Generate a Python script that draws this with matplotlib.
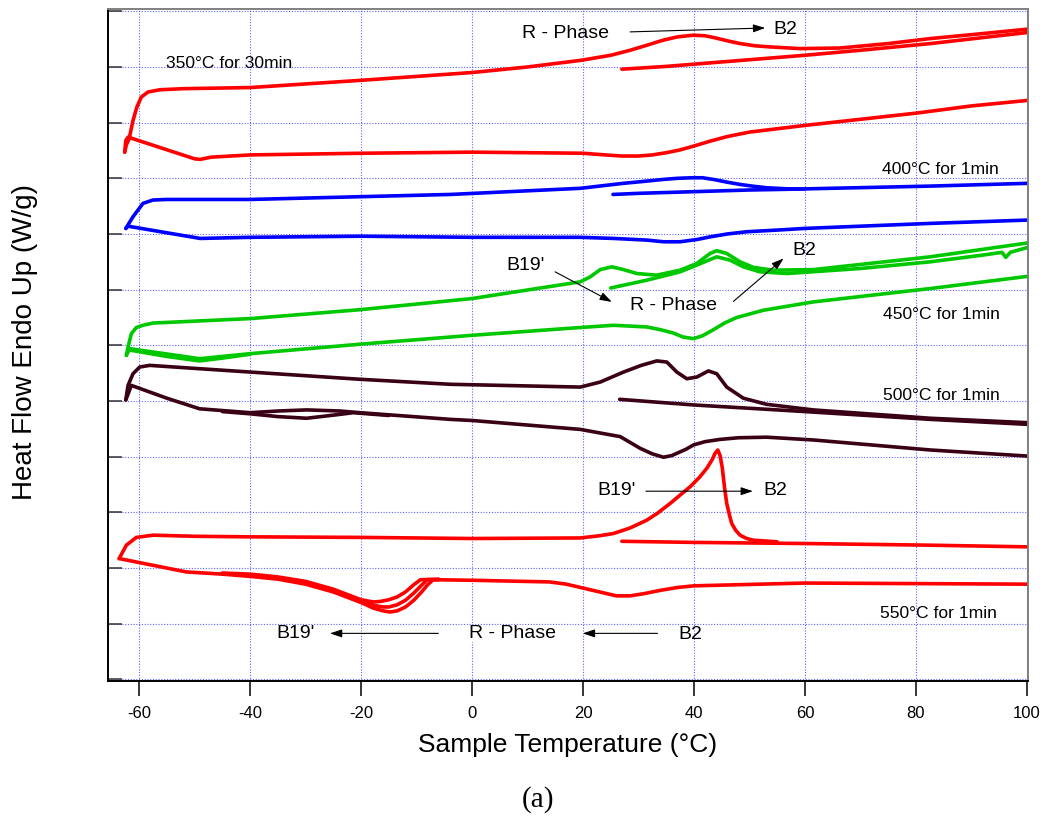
import matplotlib
matplotlib.use('Agg')
import matplotlib.pyplot as plt

plt.rcParams['font.family'] = 'Liberation Sans'
plt.rcParams['axes.unicode_minus'] = False

# ---- 350C for 30min (red) ----
t350_heat1 = [27.0, 35, 40, 50, 60, 70, 82.6, 100.2]
h350_heat1 = [10.96, 11.01, 11.05, 11.13, 11.21, 11.30, 11.42, 11.62]
t350_cool = [100.2, 90, 80, 70, 60, 55, 50, 46, 43, 40, 37.5, 35, 32.5, 30, 27, 24, 20, 10,
             0, -20, -40, -47, -49, -50, -62.0, -62.4, -62.6]
h350_cool = [10.40, 10.30, 10.17, 10.06, 9.95, 9.89, 9.83, 9.75, 9.67, 9.58, 9.51, 9.46,
             9.42, 9.40, 9.40, 9.42, 9.45, 9.46, 9.47, 9.45, 9.42, 9.38, 9.34, 9.35, 9.74,
             9.68, 9.47]
t350_heat2 = [-62.6, -62.3, -61.8, -61.1, -60.4, -59.6, -58.4, -56.3, -52.1, -40, -20, 0,
              10, 19.7, 25, 28.5, 31.5, 34.4, 37, 39.8, 42, 43.5, 46, 48.3, 51, 53.7,
              59.1, 66.3, 75, 82.6, 90, 100.2]
h350_heat2 = [9.47, 9.60, 9.71, 10.04, 10.28, 10.46, 10.55, 10.59, 10.61, 10.63, 10.76,
              10.90, 11.00, 11.12, 11.21, 11.30, 11.39, 11.48, 11.54, 11.57, 11.56, 11.53,
              11.47, 11.42, 11.38, 11.36, 11.33, 11.34, 11.42, 11.51, 11.58, 11.68]

# ---- 400C for 1min (blue) ----
t400_heat1 = [25.4, 30, 40, 50, 55.5, 60, 82.6, 100.2]
h400_heat1 = [8.71, 8.73, 8.76, 8.79, 8.80, 8.81, 8.86, 8.91]
t400_cool = [100.2, 82.6, 60, 55, 49.5, 46, 43, 40.5, 37.5, 34.5, 31.5, 25.5, 19.5, 0, -20,
             -40, -49, -62.0, -62.4]
h400_cool = [8.25, 8.19, 8.10, 8.07, 8.04, 8.00, 7.95, 7.90, 7.86, 7.86, 7.89, 7.92, 7.94,
             7.94, 7.96, 7.94, 7.92, 8.14, 8.10]
t400_heat2 = [-62.4, -61.1, -59.3, -57.5, -55, -40, -20, -3.9, 19.5, 27.3, 30.5, 34.5, 37,
              39.9, 41.5, 43.5, 46, 48.3, 50.5, 53.1, 57, 60]
h400_heat2 = [8.10, 8.31, 8.55, 8.61, 8.62, 8.62, 8.67, 8.71, 8.82, 8.91, 8.94, 8.98, 9.00,
              9.01, 9.01, 8.98, 8.93, 8.89, 8.86, 8.83, 8.81, 8.81]

# ---- 450C for 1min (green) ----
t450_heat1 = [25.0, 31.5, 37.5, 41.2, 44.1, 46.5, 48.9, 51.9, 56.8, 70, 82.6, 92, 95.5,
              96.2, 97, 100.2]
h450_heat1 = [7.03, 7.17, 7.32, 7.47, 7.59, 7.53, 7.41, 7.32, 7.29, 7.38, 7.50, 7.62,
              7.67, 7.58, 7.67, 7.76]
t450_cool = [100.2, 82.6, 61.5, 52.5, 47.7, 45.5, 43.5, 41.5, 39.9, 38, 36.3, 34, 31.5,
             25.5, 19.5, 0, -20.2, -40, -49.1, -61.7, -62.3]
h450_cool = [7.24, 7.02, 6.78, 6.63, 6.50, 6.40, 6.28, 6.17, 6.12, 6.15, 6.22, 6.28, 6.33,
             6.36, 6.32, 6.18, 6.02, 5.85, 5.76, 5.94, 5.82]
t450_cool_b = [-62.0, -55, -49.1, -45, -40]
h450_cool_b = [5.92, 5.80, 5.72, 5.77, 5.84]
t450_heat2 = [-62.3, -62.0, -61.4, -60.5, -59.3, -57.5, -40, -20.2, 0, 19.5, 21.3, 23.1,
              25.2, 27.3, 29.7, 33.3, 37.5, 40.5, 42.9, 44.1, 45.9, 48.3, 50.7, 54.3,
              61.5, 82.6, 100.2]
h450_heat2 = [5.82, 5.97, 6.21, 6.32, 6.36, 6.40, 6.48, 6.64, 6.84, 7.14, 7.23, 7.36,
              7.41, 7.36, 7.29, 7.26, 7.35, 7.47, 7.65, 7.70, 7.65, 7.50, 7.40, 7.35,
              7.36, 7.59, 7.84]

# ---- 500C for 1min (dark) ----
t500_heat1 = [26.6, 39.8, 60, 82.6, 100.2]
h500_heat1 = [5.03, 4.93, 4.81, 4.67, 4.58]
t500_cool = [100.2, 82.6, 61.5, 53.1, 48, 44.7, 42, 39.9, 38.5, 36.9, 36, 34.5, 32.5, 30.3,
             26.7, 19.5, 0, -3.9, -20.2, -23.8, -29.8, -35, -40, -49.1, -55, -61.4, -62.4]
h500_cool = [4.01, 4.12, 4.30, 4.35, 4.34, 4.31, 4.27, 4.21, 4.13, 4.06, 4.02, 3.99, 4.05,
             4.15, 4.36, 4.49, 4.65, 4.67, 4.79, 4.82, 4.84, 4.82, 4.79, 4.86, 5.05, 5.28,
             5.02]
t500_cool_b = [-15, -21.4, -23.8, -29.8, -35, -40, -45]
h500_cool_b = [4.74, 4.79, 4.76, 4.69, 4.72, 4.77, 4.81]
t500_heat2 = [-62.4, -62.0, -61.1, -59.9, -58.1, -49.1, -40, -20.2, -3.9, 19.5, 23.1, 27.3,
              30.5, 33.3, 35.1, 36.9, 38.7, 40.5, 42.6, 44.1, 45.9, 48.9, 53.1, 61.5, 82.6,
              100.2]
h500_heat2 = [5.02, 5.28, 5.49, 5.61, 5.64, 5.58, 5.52, 5.39, 5.30, 5.25, 5.34, 5.52, 5.64,
              5.72, 5.70, 5.52, 5.40, 5.43, 5.54, 5.49, 5.25, 5.05, 4.94, 4.84, 4.69, 4.61]

# ---- 550C for 1min (red) ----
t550_heat1 = [27.0, 40, 60, 82.6, 100.2]
h550_heat1 = [2.48, 2.46, 2.44, 2.41, 2.38]
t550_cool = [100.2, 60, 40, 37, 34, 31, 28.5, 26, 23, 20, 17, 14, 0, -7, -8, -9, -10.5,
             -12, -13.5, -14.8, -16, -17.8, -20, -25, -30, -35, -40, -45, -51.5, -63.6]
h550_cool = [1.71, 1.73, 1.68, 1.65, 1.60, 1.54, 1.50, 1.50, 1.57, 1.64, 1.71, 1.75, 1.78,
             1.79, 1.70, 1.58, 1.42, 1.30, 1.23, 1.21, 1.23, 1.28, 1.38, 1.57, 1.71, 1.80,
             1.85, 1.89, 1.93, 2.17]
t550_cool_b = [-6, -8.1, -9, -10.5, -12, -13.5, -15, -16, -17.8, -20, -25, -30, -35, -40, -45]
h550_cool_b = [1.79, 1.79, 1.70, 1.55, 1.42, 1.34, 1.30, 1.30, 1.33, 1.41, 1.60, 1.74, 1.82,
               1.87, 1.90]
t550_cool_c = [-6, -9.3, -10.5, -12, -13.5, -15, -16.5, -17.8, -20, -25, -30, -35, -40, -45]
h550_cool_c = [1.80, 1.79, 1.70, 1.57, 1.48, 1.43, 1.40, 1.39, 1.43, 1.62, 1.76, 1.84, 1.89,
               1.91]
t550_heat2 = [-63.6, -62.3, -60.5, -57.5, -50, -40, -20, 0, 19.5, 23, 25.5, 28.5, 31.5, 33.5,
              35.7, 37.5, 39.3, 41, 42.3, 43.3, 43.8, 44.3, 44.7, 45.1, 45.5, 45.9, 46.4,
              46.8, 47.5, 48.3, 49.5, 50.7, 55]
h550_heat2 = [2.17, 2.41, 2.55, 2.59, 2.57, 2.56, 2.55, 2.53, 2.54, 2.58, 2.62, 2.72, 2.86,
              2.99, 3.16, 3.31, 3.46, 3.63, 3.79, 3.95, 4.06, 4.12, 4.02, 3.80, 3.45, 3.16,
              2.95, 2.80, 2.68, 2.59, 2.53, 2.50, 2.47]

RED = '#ff0000'
BLUE = '#0000ff'
GREEN = '#00c800'
DARK = '#3a0016'

fig = plt.figure(figsize=(10.46, 8.16), dpi=100)
ax = fig.add_axes([0.1033, 0.1654, 0.8795, 0.8235])

curves = [
    (t350_heat1, h350_heat1, RED), (t350_cool, h350_cool, RED), (t350_heat2, h350_heat2, RED),
    (t400_heat1, h400_heat1, BLUE), (t400_cool, h400_cool, BLUE), (t400_heat2, h400_heat2, BLUE),
    (t450_heat1, h450_heat1, GREEN), (t450_cool, h450_cool, GREEN),
    (t450_cool_b, h450_cool_b, GREEN), (t450_heat2, h450_heat2, GREEN),
    (t500_heat1, h500_heat1, DARK), (t500_cool, h500_cool, DARK),
    (t500_cool_b, h500_cool_b, DARK), (t500_heat2, h500_heat2, DARK),
    (t550_heat1, h550_heat1, RED), (t550_cool, h550_cool, RED),
    (t550_cool_b, h550_cool_b, RED), (t550_cool_c, h550_cool_c, RED),
    (t550_heat2, h550_heat2, RED),
]
for t, h, c in curves:
    ax.plot(t, h, color=c, lw=2.6, solid_joinstyle='round', solid_capstyle='round')

ax.set_xlim(-65.6, 100.2)
ax.set_ylim(-0.03, 12.04)
ax.set_xticks(range(-60, 101, 20))
ax.set_yticks(range(0, 13))
ax.set_yticklabels([])
ax.set_axisbelow(True)
ax.grid(True, color='#3c3cff', linestyle=(0, (1, 1.5)), lw=0.8, alpha=0.8)
ax.tick_params(axis='x', direction='out', length=11, width=1.1, labelsize=12, pad=7)
ax.tick_params(axis='y', direction='in', length=10, width=1.1, color='#333333')
for s in ['left', 'bottom']:
    ax.spines[s].set_linewidth(1.4)
    ax.spines[s].set_color('black')
for s in ['top', 'right']:
    ax.spines[s].set_linewidth(1.4)
    ax.spines[s].set_color('#808080')

ax.set_xlabel('Sample Temperature (°C)', fontsize=19, va='center')
ax.xaxis.set_label_coords(0.5, -0.0952)
ax.set_ylabel('Heat Flow Endo Up (W/g)', fontsize=20, va='center')
ax.yaxis.set_label_coords(-0.0902, 0.5045)

# sample labels
for x, y, s in [(-55.24, 11.06, '350°C for 30min'), (73.9, 9.16, '400°C for 1min'),
                (74.07, 6.55, '450°C for 1min'), (74.07, 5.09, '500°C for 1min'),
                (73.45, 1.185, '550°C for 1min')]:
    ax.text(x, y, s, fontsize=12.6, ha='left', va='center')

# phase labels
for x, y, s in [(8.93, 11.60, 'R - Phase'), (54.23, 11.67, 'B2'),
                (6.26, 7.43, "B19'"), (28.49, 6.72, 'R - Phase'), (57.65, 7.70, 'B2'),
                (22.67, 3.39, "B19'"), (52.53, 3.40, 'B2'),
                (-35.22, 0.826, "B19'"), (37.2, 0.80, 'B2')]:
    ax.text(x, y, s, fontsize=14, ha='left', va='center')
ax.text(-0.49, 0.826, 'R - Phase', fontsize=14, ha='left', va='center',
        bbox=dict(facecolor='white', edgecolor='none', pad=0))

arrow_style = dict(arrowstyle='-|>,head_length=0.6,head_width=0.2', color='black',
                   lw=0.8, mutation_scale=12, shrinkA=0, shrinkB=0)
for (x0, y0), (x1, y1) in [((28.49, 11.63), (52.84, 11.70)),
                           ((14.97, 7.32), (25.19, 6.78)),
                           ((47.12, 6.79), (56.14, 7.56)),
                           ((31.33, 3.38), (50.62, 3.38)),
                           ((-6.08, 0.826), (-25.61, 0.826)),
                           ((33.42, 0.826), (19.96, 0.826))]:
    ax.annotate('', xy=(x1, y1), xytext=(x0, y0), arrowprops=arrow_style)

fig.text(0.5139, 0.0196, '(a)', family='Liberation Serif', fontsize=21,
         ha='center', va='center')

fig.savefig('out.png', dpi=100)
